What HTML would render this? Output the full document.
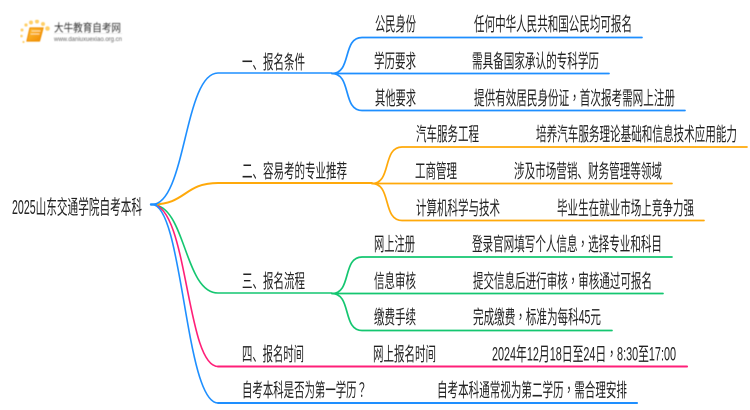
<!DOCTYPE html>
<html><head><meta charset="utf-8"><style>
html,body{margin:0;padding:0;background:#fff;width:750px;height:410px;overflow:hidden}
svg{display:block}
text{font-family:"Liberation Sans","Noto Sans CJK SC",sans-serif;font-size:19px;fill:#222}
tspan.p{font-family:"Noto Sans CJK TC",sans-serif}
path{fill:none;stroke-linecap:round}
.t{filter:url(#s)}
</style></head><body>
<svg width="750" height="410" viewBox="0 0 750 410" xmlns="http://www.w3.org/2000/svg">
<defs>
<linearGradient id="b" x1="0" y1="0" x2="1" y2="1"><stop offset="0" stop-color="#ffc23a"/><stop offset="1" stop-color="#f08a00"/></linearGradient>
<filter id="s" x="0" y="0" width="100%" height="100%"><feGaussianBlur stdDeviation="0.3"/></filter>
<filter id="l" x="0" y="0" width="100%" height="100%"><feGaussianBlur stdDeviation="0.45"/></filter>
</defs>
<!-- logo -->
<g filter="url(#l)">
<g fill="#ffcf66">
<circle cx="26" cy="25" r="1.6"/><circle cx="31" cy="22.5" r="2"/><circle cx="37" cy="21.5" r="2"/><circle cx="43" cy="24" r="2"/><circle cx="47.5" cy="28.5" r="2.3"/><circle cx="22" cy="30" r="1.5"/><circle cx="21.5" cy="36" r="1.3"/><circle cx="23.5" cy="42" r="1.1"/>
</g>
<path d="M30 28H43L39.5 41H27Z" style="fill:url(#b);stroke:#f09000;stroke-width:1.2"/>
<path d="M32 31H40M31 34H39" style="stroke:#ffe0a0;stroke-width:.9"/>
<text x="54" y="31.5" textLength="67" lengthAdjust="spacingAndGlyphs" style="font-size:11px;fill:#333">大牛教育自考网</text>
<path d="M54 33.5H122" style="stroke:#ddd;stroke-width:.6"/>
<text x="54" y="41" textLength="68" lengthAdjust="spacingAndGlyphs" style="font-size:6.5px;fill:#666">www.daniuxuexiao.org.cn</text>
</g>
<!-- main branches -->
<g stroke-width="1.6">
<path stroke="#14c670" d="M152 204.5C186 204.5 184 293 218 293H332"/>
<path stroke="#ff1f78" d="M152 204.5C188 204.5 186 366.5 218 366.5H687"/>
<path stroke="#1e8fff" d="M152 204.5C183 204.5 185 403 218 403H637"/>
<path stroke="#ffa90a" stroke-width="2" d="M152 204.5C186 204.5 184 183 218 183H372"/>
<path stroke="#1e8fff" d="M152 204.5C186 204.5 184 73 218 73H332"/>
</g>
<path stroke="#1e8fff" stroke-width="2.4" d="M151 204.5H156"/>
<!-- sub branches -->
<g stroke="#1e8fff" stroke-width="1.7">
<path d="M332 73.5C352 73.5 342 37.5 362 37.5H642"/>
<path d="M332 73.5H609"/>
<path d="M332 73.5C352 73.5 342 110.5 362 110.5H685"/>
</g>
<g stroke="#ffa90a" stroke-width="1.7">
<path d="M372 183.5C392 183.5 382 147 402 147H747"/>
<path d="M372 183.5H672"/>
<path d="M372 183.5C392 183.5 382 220.5 402 220.5H704"/>
</g>
<g stroke="#14c670" stroke-width="1.7">
<path d="M332 293.5C352 293.5 342 257 362 257H672"/>
<path d="M332 293.5H663"/>
<path d="M332 293.5C352 293.5 342 330.5 362 330.5H612"/>
</g>
<path stroke="#ff1f78" stroke-width="2" d="M218 366.5H687"/>
<path stroke="#1e8fff" stroke-width="2" d="M218 403H637"/>
<!-- text -->
<g class="t">
<text x="12" y="214" textLength="130" lengthAdjust="spacingAndGlyphs" style="font-size:20px">2025山东交通学院自考本科</text>
<text x="242" y="68.5" textLength="63" lengthAdjust="spacingAndGlyphs">一、报名条件</text>
<text x="375" y="30.5" textLength="41" lengthAdjust="spacingAndGlyphs">公民身份</text>
<text x="474" y="30.5" textLength="158" lengthAdjust="spacingAndGlyphs">任何中华人民共和国公民均可报名</text>
<text x="374" y="67.5" textLength="42" lengthAdjust="spacingAndGlyphs">学历要求</text>
<text x="472" y="67.5" textLength="127" lengthAdjust="spacingAndGlyphs">需具备国家承认的专科学历</text>
<text x="375" y="104.5" textLength="41" lengthAdjust="spacingAndGlyphs">其他要求</text>
<text x="474" y="104.5" textLength="201" lengthAdjust="spacingAndGlyphs">提供有效居民身份证<tspan class="p">，</tspan>首次报考需网上注册</text>
<text x="242" y="177.5" textLength="105" lengthAdjust="spacingAndGlyphs">二、容易考的专业推荐</text>
<text x="416" y="140.5" textLength="63" lengthAdjust="spacingAndGlyphs">汽车服务工程</text>
<text x="536" y="140.5" textLength="201" lengthAdjust="spacingAndGlyphs">培养汽车服务理论基础和信息技术应用能力</text>
<text x="415" y="177.5" textLength="42" lengthAdjust="spacingAndGlyphs">工商管理</text>
<text x="514" y="177.5" textLength="148" lengthAdjust="spacingAndGlyphs">涉及市场营销、财务管理等领域</text>
<text x="416" y="214.5" textLength="84" lengthAdjust="spacingAndGlyphs">计算机科学与技术</text>
<text x="557" y="214.5" textLength="137" lengthAdjust="spacingAndGlyphs">毕业生在就业市场上竞争力强</text>
<text x="242" y="287.5" textLength="63" lengthAdjust="spacingAndGlyphs">三、报名流程</text>
<text x="374" y="250.5" textLength="41" lengthAdjust="spacingAndGlyphs">网上注册</text>
<text x="472" y="250.5" textLength="190" lengthAdjust="spacingAndGlyphs">登录官网填写个人信息<tspan class="p">，</tspan>选择专业和科目</text>
<text x="374" y="287.5" textLength="42" lengthAdjust="spacingAndGlyphs">信息审核</text>
<text x="473" y="287.5" textLength="179" lengthAdjust="spacingAndGlyphs">提交信息后进行审核<tspan class="p">，</tspan>审核通过可报名</text>
<text x="374" y="323.5" textLength="42" lengthAdjust="spacingAndGlyphs">缴费手续</text>
<text x="473" y="323.5" textLength="128" lengthAdjust="spacingAndGlyphs">完成缴费<tspan class="p">，</tspan>标准为每科45元</text>
<text x="242" y="360.5" textLength="62" lengthAdjust="spacingAndGlyphs">四、报名时间</text>
<text x="373" y="360.5" textLength="63" lengthAdjust="spacingAndGlyphs">网上报名时间</text>
<text x="492" y="360.5" textLength="184" lengthAdjust="spacingAndGlyphs">2024年12月18日至24日<tspan class="p">，</tspan>8:30至17:00</text>
<text x="242" y="396.5" textLength="125" lengthAdjust="spacingAndGlyphs">自考本科是否为第一学历<tspan class="p">？</tspan></text>
<text x="437" y="396.5" textLength="190" lengthAdjust="spacingAndGlyphs">自考本科通常视为第二学历<tspan class="p">，</tspan>需合理安排</text>
</g>
</svg>
</body></html>
